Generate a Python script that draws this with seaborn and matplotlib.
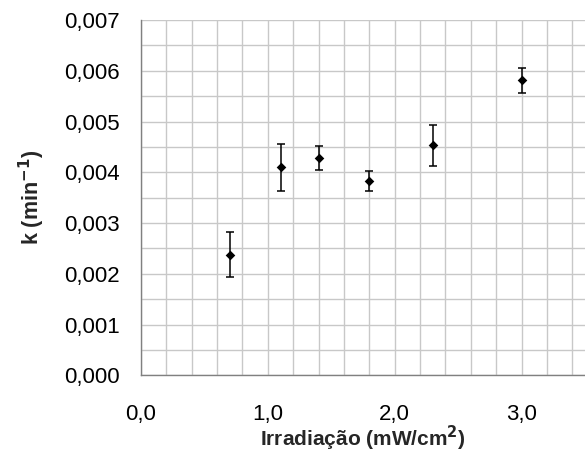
import numpy as np
import pandas as pd
import matplotlib
matplotlib.use("Agg")
import matplotlib.pyplot as plt
import seaborn as sns
from matplotlib.ticker import MultipleLocator, FuncFormatter

irradiacao = [0.7, 1.1, 1.4, 1.8, 2.3, 3.0]
k_values = [0.00238, 0.00410, 0.00428, 0.00383, 0.00453, 0.00581]
k_err = [0.00044, 0.00046, 0.00024, 0.00019, 0.00041, 0.00025]

sns.set_style("white")
plt.rcParams['font.family'] = ['Liberation Sans', 'DejaVu Sans']

df = pd.DataFrame({"x": irradiacao, "k": k_values, "err": k_err})

fig = plt.figure(figsize=(5.85, 4.54), dpi=100)
ax = fig.add_axes([0.241, 0.1733, 0.759, 0.7827])

ax.errorbar(df["x"], df["k"], yerr=df["err"], fmt="none", ecolor="black",
            elinewidth=1.1, capsize=3, capthick=1.1, zorder=3)
sns.scatterplot(data=df, x="x", y="k", marker="D", color="black", s=24,
                edgecolor="black", linewidth=0, ax=ax, zorder=4)

ax.set_xlim(0, 3.5)
ax.set_ylim(0, 0.007)
ax.xaxis.set_major_locator(MultipleLocator(1.0))
ax.xaxis.set_minor_locator(MultipleLocator(0.2))
ax.yaxis.set_major_locator(MultipleLocator(0.001))
ax.yaxis.set_minor_locator(MultipleLocator(0.0005))
ax.xaxis.set_major_formatter(FuncFormatter(lambda v, p: f"{v:.1f}".replace(".", ",")))
ax.yaxis.set_major_formatter(FuncFormatter(lambda v, p: f"{v:.3f}".replace(".", ",")))

ax.grid(True, which="both", color="#c8c8c8", linewidth=1.0, zorder=0)
ax.set_axisbelow(True)
for s in ["top", "right"]:
    ax.spines[s].set_visible(False)
for s in ["left", "bottom"]:
    ax.spines[s].set_color("#808080")
    ax.spines[s].set_linewidth(1.0)

ax.tick_params(axis="both", which="major", direction="out", length=6.5, width=1,
               color="#808080", labelsize=16, labelcolor="black")
ax.tick_params(axis="y", which="major", pad=9)
ax.tick_params(axis="x", which="major", pad=14)
ax.tick_params(axis="both", which="minor", length=0)

ax.set_xlabel("Irradiação (mW/cm$^\\mathbf{2}$)", fontsize=15, fontweight="bold", labelpad=-1)
ax.set_ylabel("k (min$^\\mathbf{-1}$)", fontsize=15.5, fontweight="bold", labelpad=12)

fig.savefig("out.png", dpi=100)
